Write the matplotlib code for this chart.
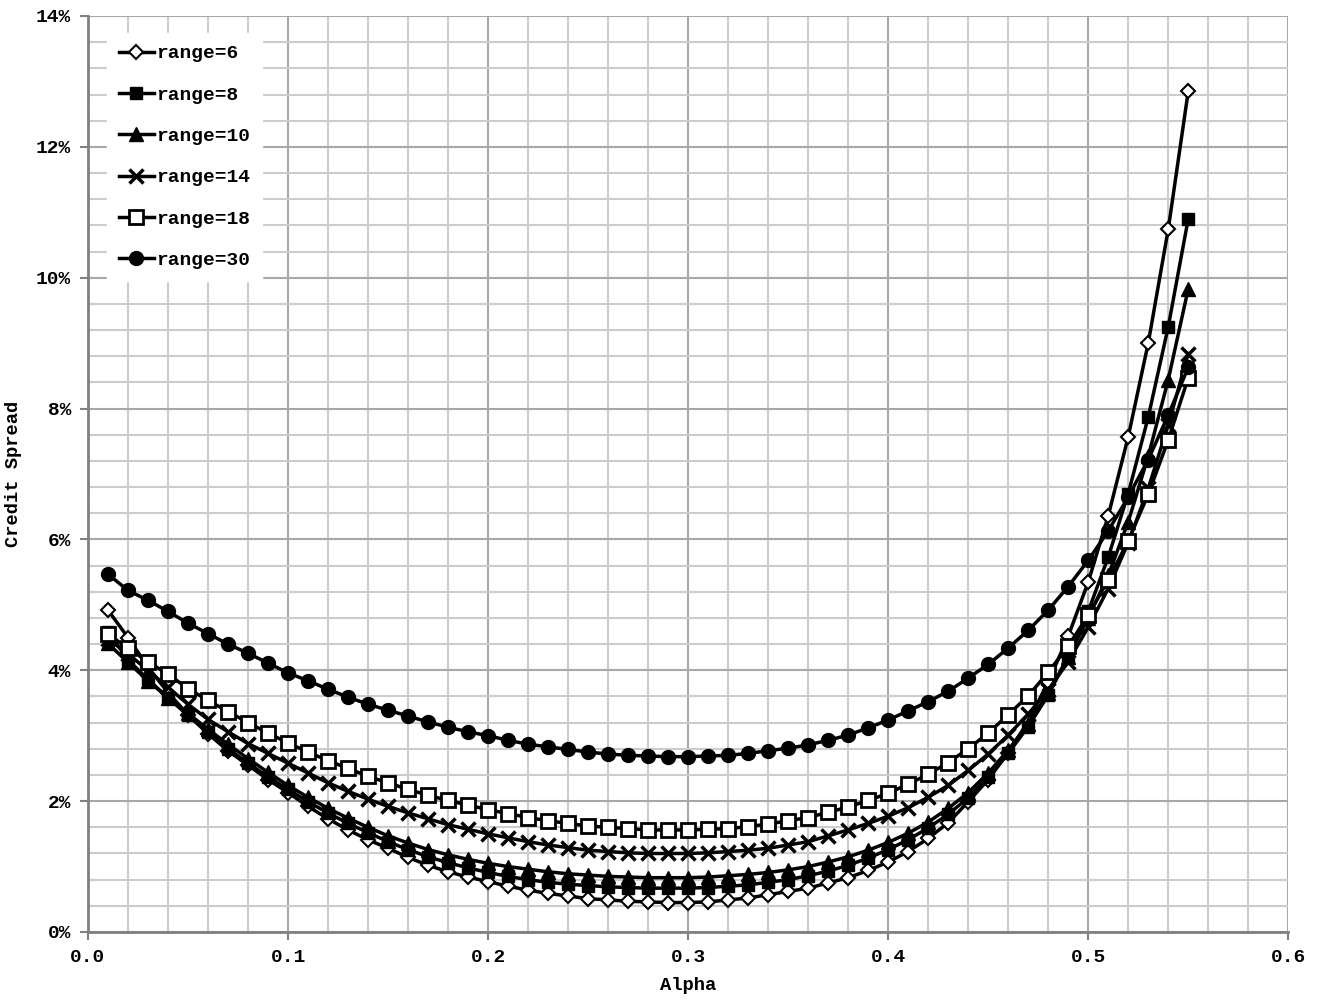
import matplotlib
matplotlib.use("Agg")
import matplotlib.pyplot as plt
from matplotlib.ticker import MultipleLocator, FuncFormatter

# Alpha grid 0.01 .. 0.55
alpha = [round(0.01 * i, 2) for i in range(1, 56)]

# credit spread in %
range6 = [4.92, 4.50, 4.05, 3.66, 3.32, 3.03, 2.77, 2.55, 2.33, 2.13,
          1.92, 1.73, 1.56, 1.41, 1.28, 1.14, 1.02, 0.92, 0.84, 0.77,
          0.70, 0.64, 0.59, 0.55, 0.51, 0.49, 0.47, 0.46, 0.45, 0.45,
          0.46, 0.49, 0.52, 0.57, 0.62, 0.67, 0.75, 0.83, 0.94, 1.07,
          1.23, 1.43, 1.67, 1.99, 2.33, 2.74, 3.22, 3.82, 4.52, 5.35,
          6.36, 7.57, 9.00, 10.74, 12.85]
range8 = [4.59, 4.16, 3.86, 3.58, 3.31, 3.05, 2.80, 2.58, 2.37, 2.18,
          1.99, 1.82, 1.66, 1.52, 1.38, 1.26, 1.15, 1.06, 0.98, 0.91,
          0.85, 0.80, 0.76, 0.73, 0.71, 0.69, 0.68, 0.67, 0.67, 0.67,
          0.68, 0.70, 0.72, 0.76, 0.80, 0.86, 0.93, 1.02, 1.13, 1.26,
          1.41, 1.59, 1.80, 2.05, 2.37, 2.73, 3.14, 3.62, 4.22, 4.90,
          5.73, 6.70, 7.87, 9.25, 10.90]
range10 = [4.41, 4.12, 3.84, 3.58, 3.34, 3.10, 2.87, 2.65, 2.44, 2.24,
           2.06, 1.89, 1.74, 1.60, 1.47, 1.36, 1.26, 1.18, 1.11, 1.05,
           1.00, 0.96, 0.92, 0.89, 0.87, 0.85, 0.84, 0.83, 0.83, 0.83,
           0.84, 0.86, 0.88, 0.91, 0.95, 1.00, 1.07, 1.15, 1.25, 1.37,
           1.51, 1.68, 1.89, 2.13, 2.43, 2.78, 3.18, 3.65, 4.20, 4.80,
           5.45, 6.27, 7.27, 8.44, 9.83]
range14 = [4.48, 4.25, 4.00, 3.74, 3.48, 3.25, 3.06, 2.88, 2.73, 2.58,
           2.43, 2.28, 2.15, 2.03, 1.92, 1.82, 1.73, 1.64, 1.57, 1.50,
           1.44, 1.38, 1.33, 1.29, 1.25, 1.23, 1.21, 1.20, 1.20, 1.20,
           1.21, 1.23, 1.25, 1.28, 1.33, 1.38, 1.47, 1.56, 1.66, 1.77,
           1.90, 2.06, 2.24, 2.47, 2.72, 3.01, 3.33, 3.70, 4.13, 4.66,
           5.25, 5.95, 6.78, 7.75, 8.84]
range18 = [4.55, 4.34, 4.13, 3.94, 3.72, 3.54, 3.37, 3.20, 3.04, 2.89,
           2.75, 2.62, 2.50, 2.38, 2.28, 2.18, 2.09, 2.01, 1.94, 1.87,
           1.81, 1.75, 1.70, 1.66, 1.62, 1.60, 1.58, 1.56, 1.56, 1.56,
           1.57, 1.58, 1.61, 1.65, 1.70, 1.75, 1.83, 1.91, 2.01, 2.12,
           2.26, 2.41, 2.59, 2.80, 3.04, 3.32, 3.61, 3.97, 4.37, 4.84,
           5.38, 5.98, 6.69, 7.52, 8.47]
range30 = [5.47, 5.22, 5.07, 4.90, 4.72, 4.56, 4.40, 4.26, 4.11, 3.96,
           3.84, 3.71, 3.59, 3.48, 3.39, 3.30, 3.21, 3.13, 3.06, 3.00,
           2.93, 2.87, 2.83, 2.79, 2.75, 2.72, 2.70, 2.69, 2.68, 2.68,
           2.69, 2.70, 2.73, 2.77, 2.81, 2.86, 2.93, 3.01, 3.12, 3.24,
           3.38, 3.52, 3.68, 3.88, 4.09, 4.34, 4.61, 4.92, 5.28, 5.68,
           6.13, 6.65, 7.22, 7.90, 8.63]

labels = ['range=6', 'range=8', 'range=10', 'range=14', 'range=18', 'range=30']
series = [range6, range8, range10, range14, range18, range30]
styles = [
    dict(marker='D', markersize=7, markerfacecolor='white', markeredgewidth=1.5),
    dict(marker='s', markersize=9, markerfacecolor='black'),
    dict(marker='^', markersize=10, markerfacecolor='black'),
    dict(marker='x', markersize=10, markeredgewidth=2.5),
    dict(marker='s', markersize=10, markerfacecolor='white', markeredgewidth=2),
    dict(marker='o', markersize=10, markerfacecolor='black'),
]

plt.rcParams['font.family'] = ['Liberation Mono', 'DejaVu Sans Mono']
plt.rcParams['font.weight'] = 'bold'

fig = plt.figure(figsize=(13.19, 10), dpi=100)
ax = fig.add_axes([0.0667, 0.068, 0.91, 0.916])

for y, lab, st in zip(series, labels, styles):
    ax.plot(alpha, y, color='black', linewidth=2.5, label=lab,
            markeredgecolor='black', **st)

ax.set_xlim(0, 0.6)
ax.set_ylim(0, 14)
ax.xaxis.set_major_locator(MultipleLocator(0.1))
ax.xaxis.set_minor_locator(MultipleLocator(0.02))
ax.yaxis.set_major_locator(MultipleLocator(2))
ax.yaxis.set_minor_locator(MultipleLocator(0.4))
ax.xaxis.set_major_formatter(FuncFormatter(lambda v, p: f'{v:.1f}'))
ax.yaxis.set_major_formatter(FuncFormatter(lambda v, p: f'{v:.0f}%'))

ax.grid(True, which='major', color='#a8a8a8', linewidth=1.5)
ax.grid(True, which='minor', color='#cccccc', linewidth=1.5)
ax.set_axisbelow(True)

for s in ['top', 'right']:
    ax.spines[s].set_visible(False)
for s in ['left', 'bottom']:
    ax.spines[s].set_color('#808080')
    ax.spines[s].set_linewidth(2)

ax.tick_params(which='major', length=6, width=1.5, color='#808080',
               labelsize=14, pad=6)
ax.tick_params(which='minor', length=0)

ax.set_xlabel('Alpha', fontsize=13.5, fontweight='bold', labelpad=8)
ax.set_ylabel('Credit Spread', fontsize=13.5, fontweight='bold', labelpad=10)

leg = ax.legend(loc='upper left', bbox_to_anchor=(0.008, 0.992),
                frameon=True, fancybox=False, edgecolor='white',
                facecolor='white', framealpha=1, fontsize=14,
                handlelength=1.8, handletextpad=0.12, labelspacing=1.22,
                borderpad=0.6)
for t in leg.get_texts():
    t.set_fontweight('bold')

plt.savefig('out.png', dpi=100)
